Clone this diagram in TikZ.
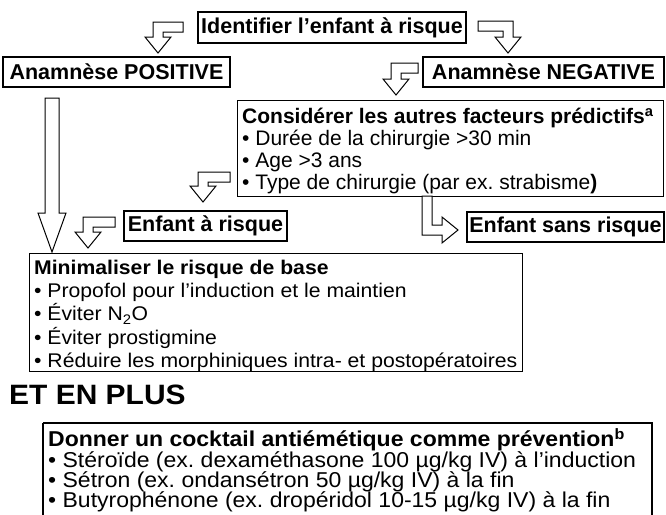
\documentclass[tikz,border=0pt]{standalone}
\usepackage{fontspec}
\setmainfont{Liberation Sans}
\newfontfamily\widefont[FakeStretch=1.07]{Liberation Sans}
\frenchspacing
\tikzset{
  box/.style={draw=black, line width=1.2pt, fill=white, inner sep=0pt},
  headtxt/.style={font=\fontsize{21.5}{24}\selectfont\bfseries},
  constxt/.style={font=\fontsize{21}{22}\selectfont, align=left, inner sep=0pt, anchor=north west},
  minitxt/.style={font=\widefont\fontsize{19.8}{23.2}\selectfont, align=left, inner sep=0pt, anchor=north west},
  dontxt/.style={font=\widefont\fontsize{21.5}{20.4}\selectfont, align=left, inner sep=0pt, anchor=north west},
  barrow/.style={draw=black, line width=1pt, fill=white, line join=miter},
}
% bent arrow: arm to the right, shaft down on the left
\newcommand\arrDL[4]{%
  \draw[barrow] (#1,{#2-5}) -- ({#3-5},{#2-5}) -- ({#3-5},{#4-16}) -- ({#3-13},{#4-16})
   -- (#3,#4) -- ({#3+13},{#4-16}) -- ({#3+5},{#4-16}) -- ({#3+5},{#2+5}) -- (#1,{#2+5}) -- cycle;}
% bent arrow: arm to the left, shaft down on the right
\newcommand\arrDR[4]{%
  \draw[barrow] (#1,{#2-5}) -- ({#3+5},{#2-5}) -- ({#3+5},{#4-16}) -- ({#3+13},{#4-16})
   -- (#3,#4) -- ({#3-13},{#4-16}) -- ({#3-5},{#4-16}) -- ({#3-5},{#2+5}) -- (#1,{#2+5}) -- cycle;}
% L arrow: shaft down from (xs,ys), turning right, tip (xt,ya)
\newcommand\arrLR[4]{%
  \draw[barrow] ({#1-5},#2) -- ({#1-5},{#3+5}) -- ({#4-16},{#3+5}) -- ({#4-16},{#3+13})
   -- (#4,#3) -- ({#4-16},{#3-13}) -- ({#4-16},{#3-5}) -- ({#1+5},{#3-5}) -- ({#1+5},#2) -- cycle;}
\begin{document}
\begin{tikzpicture}[x=1pt,y=-1pt]
\clip (0,0) rectangle (666,514);
\fill[white] (0,0) rectangle (666,514);

% heading boxes
\node[box, headtxt, minimum width=268pt, minimum height=31pt] (ident) at (332,27.5) {Identifier l’enfant à risque};
\node[box, headtxt, minimum width=227pt, minimum height=30pt] (pos) at (116.5,72) {Anamnèse POSITIVE};
\node[box, headtxt, minimum width=241pt, minimum height=30pt] (neg) at (543.5,72) {Anamnèse NEGATIVE};
\node[box, headtxt, minimum width=163pt, minimum height=30pt] (ear) at (205.5,226) {Enfant à risque};
\node[box, headtxt, minimum width=197pt, minimum height=30pt] (esr) at (565.5,227) {Enfant sans risque};

% multi-line boxes
\node[box, anchor=north west, minimum width=426pt, minimum height=96pt] (cons) at (237,100) {};
\node[constxt] (constext) at ([shift={(5,8)}]cons.north west)
  {\textbf{Considérer les autres facteurs prédictifs\textsuperscript{a}}\\
   • Durée de la chirurgie >30 min\\
   • Age >3 ans\\
   • Type de chirurgie (par ex. strabisme\textbf{)}};

\node[box, anchor=north west, minimum width=493pt, minimum height=118pt] (mini) at (29,253) {};
\node[minitxt] (minitext) at ([shift={(5,7)}]mini.north west)
  {\textbf{Minimaliser le risque de base}\\
   • Propofol pour l’induction et le maintien\\
   • Éviter N\textsubscript{2}O\\
   • Éviter prostigmine\\
   • Réduire les morphiniques intra- et postopératoires};

\node[anchor=west, font=\widefont\fontsize{28}{30}\selectfont\bfseries, inner sep=0pt] (plus) at (9,395) {ET EN PLUS};

\coordinate (dnw) at (43,423);
\coordinate (dne) at (652,423);
\draw[line width=1.2pt] (dnw) -- (43,540) (dnw) -- (dne) -- (652,540);
\node[dontxt] (donner) at ([shift={(5,5)}]dnw)
  {\textbf{Donner un cocktail antiémétique comme prévention\textsuperscript{b}}\\
   • Stéroïde (ex. dexaméthasone 100 µg/kg IV) à l’induction\\
   • Sétron (ex. ondansétron 50 µg/kg IV) à la fin\\
   • Butyrophénone (ex. dropéridol 10-15 µg/kg IV) à la fin};

% block arrows
\arrDL{183}{27}{158}{53}
\arrDR{478}{26}{508}{53}
\arrDL{418}{68}{396}{95}
\arrDL{230}{177}{203}{202}
\arrDL{115}{222}{88}{248}
\arrLR{427}{196}{230}{458}
\draw[barrow] (45,98) -- (45,213) -- (38,213) -- (52,252) -- (66,213) -- (59,213) -- (59,98) -- cycle;
\end{tikzpicture}
\end{document}
